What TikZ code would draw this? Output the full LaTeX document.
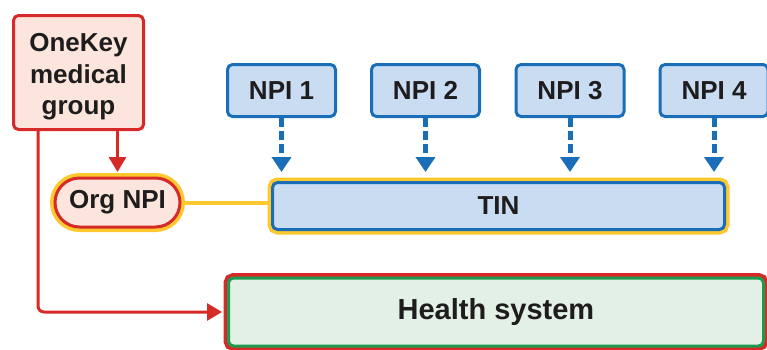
\documentclass[tikz,border=0pt]{standalone}
\usepackage{fontspec}
\setmainfont{Liberation Sans}
\usetikzlibrary{arrows.meta,shapes.misc}
\definecolor{okred}{RGB}{214,42,40}
\definecolor{okpink}{RGB}{251,229,220}
\definecolor{tinyellow}{RGB}{255,200,46}
\definecolor{npiblue}{RGB}{26,110,184}
\definecolor{npifill}{RGB}{201,220,242}
\definecolor{hsgreen}{RGB}{28,155,80}
\definecolor{hsfill}{RGB}{226,240,229}
\definecolor{txtgray}{RGB}{30,28,28}

\begin{document}
\begin{tikzpicture}[x=1pt,y=-1pt,
  box/.style={rounded corners=5pt, line width=3pt, inner sep=0pt, text=txtgray,
    font=\fontsize{26}{31.5}\selectfont\bfseries},
  npibox/.style={box, draw=npiblue, fill=npifill, minimum width=108pt, minimum height=52pt},
  yellowrim/.style={preaction={draw=tinyellow, line width=10pt}},
  redarrow/.style={draw=okred, line width=3pt, -{Triangle[length=15pt,width=17pt]}},
  bluearrow/.style={draw=npiblue, line width=5pt, dash pattern=on 9pt off 4pt,
    -{Triangle[length=15pt,width=19pt]}}]
\useasboundingbox (0,0) rectangle (767,349);

\node[box, draw=okred, fill=okpink, minimum width=130pt, minimum height=114pt,
    align=center, text height=90pt] (onekey) at (78.5,72.5) {OneKey\\medical\\group};
\node[box, sharp corners, yellowrim, rounded rectangle, draw=okred, fill=okpink,
    minimum width=125pt, minimum height=49pt] (orgnpi) at (117.5,202.5) {Org NPI};
\node[box, yellowrim, draw=npiblue, fill=npifill, minimum width=452pt, minimum height=47pt]
    (tin) at (498.5,206) {TIN};
\node[box, preaction={draw=okred, line width=10pt}, draw=hsgreen, fill=hsfill,
    minimum width=535pt, minimum height=68pt, font=\fontsize{29}{34}\selectfont\bfseries]
    (health) at (496,312) {Health system};

\foreach \i/\x in {1/281.5,2/425.5,3/570,4/714} {
  \node[npibox] (npi\i) at (\x,90.5) {NPI \i};
  \draw[bluearrow, shorten >=9pt] (npi\i.south) -- (npi\i.south |- tin.north);
}

\draw[tinyellow, line width=4pt] (orgnpi.east) -- (orgnpi.east -| tin.west);
\draw[redarrow, shorten >=4.5pt] (orgnpi.north |- onekey.south) -- (orgnpi.north);
\draw[redarrow, rounded corners=6pt, shorten >=5pt]
    ([xshift=26pt]onekey.south west) |- (health.west);
\end{tikzpicture}
\end{document}
